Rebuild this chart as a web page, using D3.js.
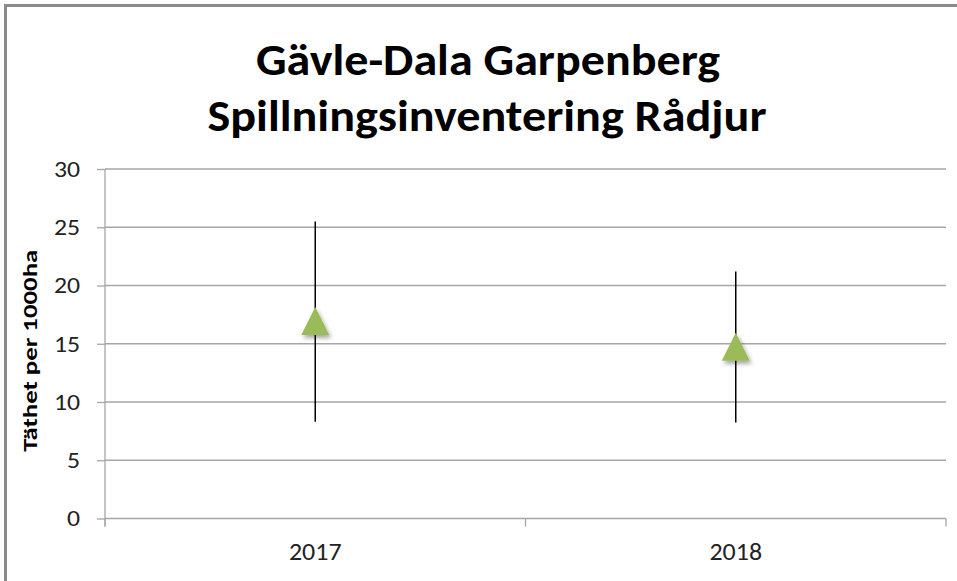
<!DOCTYPE html>
<html>
<head>
<meta charset="utf-8">
<script src="https://cdn.jsdelivr.net/npm/d3@7"></script>
<style>
  body { margin: 0; background: #fff; }
  svg { display: block; font-family: Carlito, "Liberation Sans Narrow", "Open Sans", sans-serif; }
</style>
</head>
<body>
<svg></svg>
<script>
const width = 957;
const height = 581;

// data
const years = ["2017", "2018"];
const density = [16.95, 14.75];
const lowBound = [8.3, 8.25];
const highBound = [25.5, 21.2];
const yTicks = [0, 5, 10, 15, 20, 25, 30];
const titleLines = ["Gävle-Dala Garpenberg", "Spillningsinventering Rådjur"];
const yTitle = "Täthet per 1000ha";

const plot = { left: 105, right: 946, top: 169, bottom: 518.5 };
const gridColor = "#a6a6a6";

let svg = d3.select("svg")
    .attr("width", width)
    .attr("height", height);

let defs = svg.append("defs");
let shadow = defs.append("filter")
    .attr("id", "shadow")
    .attr("x", "-50%").attr("y", "-50%")
    .attr("width", "200%").attr("height", "200%");
shadow.append("feDropShadow")
    .attr("dx", 2).attr("dy", 3)
    .attr("stdDeviation", 2)
    .attr("flood-color", "#000")
    .attr("flood-opacity", 0.35);

// stretch text a bit wider, the source picture is wider than tall
function widen(sel, k) {
    sel.each(function() {
        let w = this.getComputedTextLength();
        d3.select(this)
            .attr("textLength", w * k)
            .attr("lengthAdjust", "spacingAndGlyphs");
    });
}

// outer chart frame (cropped at right and bottom)
svg.append("path")
    .attr("d", `M5.5,${height + 5} V5.5 H${width + 5}`)
    .attr("fill", "none")
    .attr("stroke", "#8a8a8a")
    .attr("stroke-width", 3);

// title
svg.selectAll(".title")
    .data(titleLines)
    .enter()
    .append("text")
    .attr("class", "title")
    .attr("x", (d, i) => i == 0 ? 488 : 487)
    .attr("y", (d, i) => 75 + i * 56)
    .attr("text-anchor", "middle")
    .attr("font-size", 44)
    .attr("font-weight", "bold")
    .attr("textLength", (d, i) => i == 0 ? 464 : 559)
    .attr("lengthAdjust", "spacingAndGlyphs")
    .text(d => d);

// scales
let scaleX = d3.scaleBand()
    .domain(years)
    .range([plot.left, plot.right]);

let scaleY = d3.scaleLinear()
    .domain([0, 30])
    .range([plot.bottom, plot.top]);

// gridlines
svg.append("g")
    .selectAll("line")
    .data(yTicks.slice(1))
    .enter()
    .append("line")
    .attr("x1", plot.left)
    .attr("x2", plot.right)
    .attr("y1", d => scaleY(d))
    .attr("y2", d => scaleY(d))
    .attr("stroke", gridColor)
    .attr("stroke-width", 1.3);

// y axis
let axisY = d3.axisLeft(scaleY)
    .tickValues(yTicks)
    .tickSize(8)
    .tickPadding(17);

let gy = svg.append("g")
    .attr("transform", `translate(${plot.left}, 0)`)
    .call(axisY);
gy.select(".domain").remove();
gy.selectAll(".tick line").attr("stroke", gridColor).attr("stroke-width", 1.3);
gy.selectAll(".tick text")
    .attr("font-size", 23)
    .attr("font-family", "Carlito, 'Liberation Sans Narrow', 'Open Sans', sans-serif")
    .attr("fill", "#222")
    .call(widen, 1.12);

svg.append("line")
    .attr("x1", plot.left).attr("x2", plot.left)
    .attr("y1", plot.top).attr("y2", plot.bottom + 8)
    .attr("stroke", gridColor)
    .attr("stroke-width", 1.3);

// x axis
svg.append("line")
    .attr("x1", plot.left).attr("x2", plot.right)
    .attr("y1", plot.bottom).attr("y2", plot.bottom)
    .attr("stroke", gridColor)
    .attr("stroke-width", 1.3);

let xEdges = years.map(d => scaleX(d)).concat([scaleX.range()[1]]);
svg.append("g")
    .selectAll("line")
    .data(xEdges)
    .enter()
    .append("line")
    .attr("x1", d => d).attr("x2", d => d)
    .attr("y1", plot.bottom).attr("y2", plot.bottom + 8)
    .attr("stroke", gridColor)
    .attr("stroke-width", 1.3);

svg.append("g")
    .selectAll("text")
    .data(years)
    .enter()
    .append("text")
    .attr("x", d => scaleX(d) + scaleX.bandwidth() / 2)
    .attr("y", 560)
    .attr("text-anchor", "middle")
    .attr("font-size", 24)
    .attr("fill", "#222")
    .text(d => d)
    .call(widen, 1.08);

// y axis title
svg.append("text")
    .attr("transform", `translate(37, ${(plot.top + plot.bottom) / 2 + 7}) rotate(-90)`)
    .attr("text-anchor", "middle")
    .attr("font-size", 21)
    .attr("font-weight", "bold")
    .attr("textLength", 202)
    .attr("lengthAdjust", "spacingAndGlyphs")
    .text(yTitle);

// error bars
let rows = years.map((y, i) => ({ year: y, value: density[i], lo: lowBound[i], hi: highBound[i] }));

svg.append("g")
    .selectAll("line")
    .data(rows)
    .enter()
    .append("line")
    .attr("x1", d => scaleX(d.year) + scaleX.bandwidth() / 2)
    .attr("x2", d => scaleX(d.year) + scaleX.bandwidth() / 2)
    .attr("y1", d => scaleY(d.hi))
    .attr("y2", d => scaleY(d.lo))
    .attr("stroke", "#000")
    .attr("stroke-width", 1.5);

// triangle marker, as wide as tall like the Excel one
const wideTriangle = {
    draw(context, size) {
        let h = Math.sqrt(size) / 2;
        context.moveTo(0, -h);
        context.lineTo(h, h);
        context.lineTo(-h, h);
        context.closePath();
    }
};
let tri = d3.symbol().type(wideTriangle).size(28 * 28);
svg.append("g")
    .selectAll("path")
    .data(rows)
    .enter()
    .append("path")
    .attr("d", tri)
    .attr("transform", d => `translate(${scaleX(d.year) + scaleX.bandwidth() / 2}, ${scaleY(d.value)})`)
    .attr("fill", "#9bbb59")
    .attr("filter", "url(#shadow)");
</script>
</body>
</html>
